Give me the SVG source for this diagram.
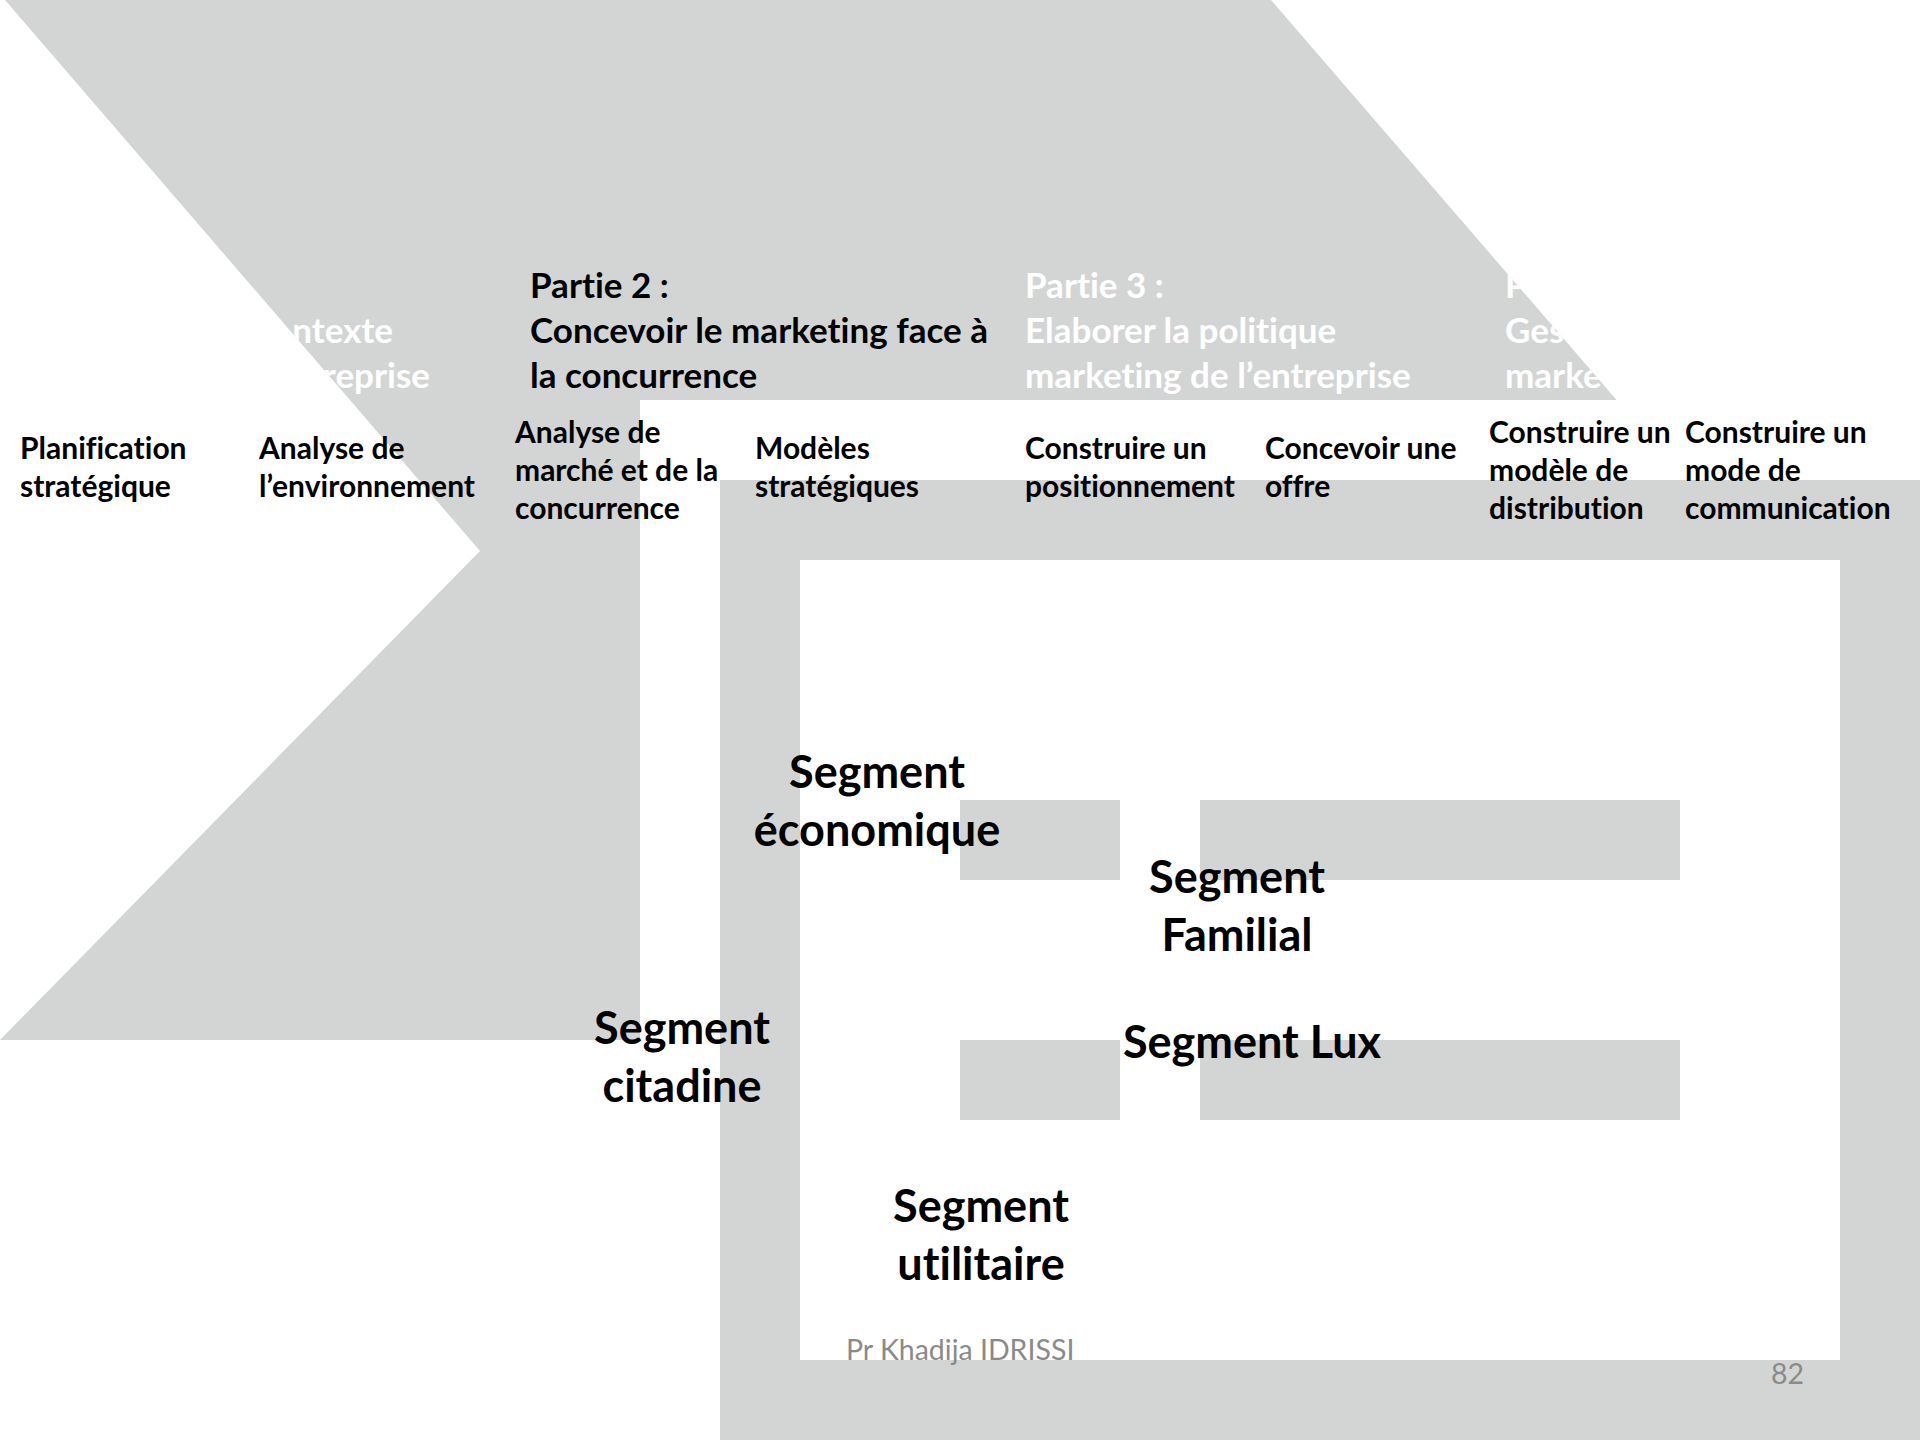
<svg xmlns="http://www.w3.org/2000/svg" width="1920" height="1440" viewBox="0 0 1920 1440">
  <defs>
    <style>
      .g { fill: #d3d5d5; }
      .w { fill: #ffffff; }
      text { font-variant-ligatures: none; font-feature-settings: "liga" 0, "clig" 0; }
      .t { font-family: Lato, "Liberation Sans", sans-serif; font-weight: bold; }
      .big { font-size: 35px; }
      .mid { font-size: 30px; fill: #000; }
      .seg { font-size: 45px; fill: #000; text-anchor: middle; }
      .wt { fill: #ffffff; }
      .foot { font-family: Lato, "Liberation Sans", sans-serif; font-size: 28.5px; fill: #8a8a8a; }
    </style>
    <clipPath id="chev">
      <polygon points="5,0 1271,0 1747,551 1271,1040 0,1040 480,551"/>
    </clipPath>
  </defs>
  <rect width="1920" height="1440" fill="#ffffff"/>

  <g id="chevron">
    <polygon class="g" points="5,0 1271,0 1747,551 1271,1040 0,1040 480,551"/>
  </g>
  <g id="white-panel">
    <rect class="w" x="640" y="400" width="1280" height="1040"/>
  </g>
  <g id="gray-frame">
    <rect class="g" x="720" y="480" width="1200" height="960"/>
    <rect class="w" x="800" y="560" width="1040" height="800"/>
  </g>
  <g id="bars">
    <rect class="g" x="960" y="800" width="160" height="80"/>
    <rect class="g" x="1200" y="800" width="480" height="80"/>
    <rect class="g" x="960" y="1040" width="160" height="80"/>
    <rect class="g" x="1200" y="1040" width="480" height="80"/>
  </g>

  <g id="partie1" clip-path="url(#chev)">
    <text class="t big wt" x="393" y="343" text-anchor="end">ntexte</text>
    <text class="t big wt" x="430" y="388" text-anchor="end">reprise</text>
  </g>
  <g id="partie2">
    <text class="t big" x="530" y="298">Partie 2 :</text>
    <text class="t big" x="530" y="343">Concevoir le marketing face à</text>
    <text class="t big" x="530" y="388">la concurrence</text>
  </g>
  <g id="partie3">
    <text class="t big wt" x="1025" y="298">Partie 3 :</text>
    <text class="t big wt" x="1025" y="343">Elaborer la politique</text>
    <text class="t big wt" x="1025" y="388">marketing de l’entreprise</text>
  </g>
  <g id="partie4" clip-path="url(#chev)">
    <text class="t big wt" x="1505" y="298">P</text>
    <text class="t big wt" x="1505" y="343">Ges</text>
    <text class="t big wt" x="1505" y="388">marke</text>
  </g>

  <g id="step1"><text class="t mid" x="20" y="459">Planification<tspan x="20" y="497">stratégique</tspan></text></g>
  <g id="step2"><text class="t mid" x="259" y="459">Analyse de<tspan x="259" y="497">l’environnement</tspan></text></g>
  <g id="step3"><text class="t mid" x="515" y="443">Analyse de<tspan x="515" y="481">marché et de la</tspan><tspan x="515" y="519">concurrence</tspan></text></g>
  <g id="step4"><text class="t mid" x="755" y="459">Modèles<tspan x="755" y="497">stratégiques</tspan></text></g>
  <g id="step5"><text class="t mid" x="1025" y="459">Construire un<tspan x="1025" y="497">positionnement</tspan></text></g>
  <g id="step6"><text class="t mid" x="1265" y="459">Concevoir une<tspan x="1265" y="497">offre</tspan></text></g>
  <g id="step7"><text class="t mid" x="1489" y="443">Construire un<tspan x="1489" y="481">modèle de</tspan><tspan x="1489" y="519">distribution</tspan></text></g>
  <g id="step8"><text class="t mid" x="1685" y="443">Construire un<tspan x="1685" y="481">mode de</tspan><tspan x="1685" y="519">communication</tspan></text></g>

  <g id="seg-eco"><text class="t seg" x="877" y="788">Segment<tspan x="877" y="846">économique</tspan></text></g>
  <g id="seg-fam"><text class="t seg" x="1237" y="893">Segment<tspan x="1237" y="951">Familial</tspan></text></g>
  <g id="seg-cit"><text class="t seg" x="682" y="1044">Segment<tspan x="682" y="1102">citadine</tspan></text></g>
  <g id="seg-lux"><text class="t seg" x="1252" y="1058">Segment Lux</text></g>
  <g id="seg-uti"><text class="t seg" x="981" y="1222">Segment<tspan x="981" y="1280">utilitaire</tspan></text></g>

  <g id="footer">
    <text class="foot" x="846" y="1360">Pr Khadija IDRISSI</text>
    <text class="foot" x="1804" y="1384" text-anchor="end">82</text>
  </g>
</svg>
